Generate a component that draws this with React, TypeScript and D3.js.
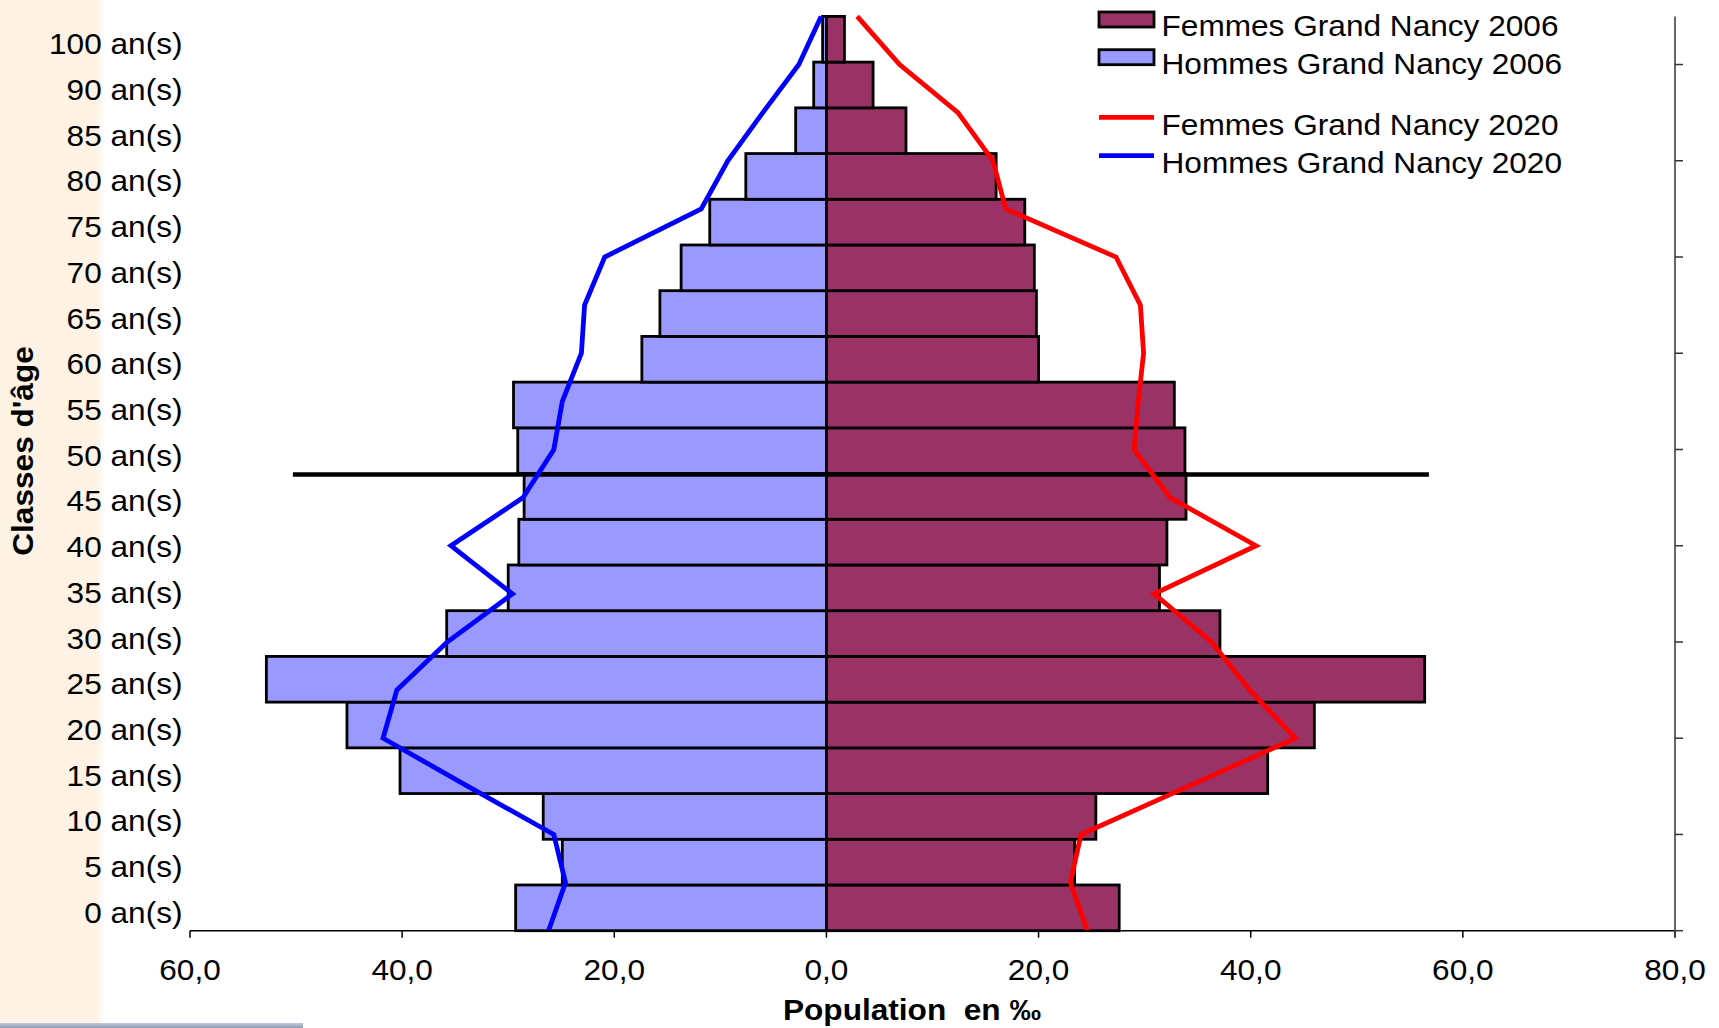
import React from "react";
import * as d3 from "d3";

// ---------- data ----------
const AGES = [
  "0 an(s)", "5 an(s)", "10 an(s)", "15 an(s)", "20 an(s)", "25 an(s)", "30 an(s)",
  "35 an(s)", "40 an(s)", "45 an(s)", "50 an(s)", "55 an(s)", "60 an(s)", "65 an(s)",
  "70 an(s)", "75 an(s)", "80 an(s)", "85 an(s)", "90 an(s)", "100 an(s)",
];
const FEMMES_2006 = [27.6, 23.4, 25.4, 41.6, 46.0, 56.4, 37.1, 31.4, 32.1, 33.9, 33.8, 32.8, 20.0, 19.8, 19.6, 18.7, 16.0, 7.5, 4.4, 1.7];
const HOMMES_2006 = [29.3, 24.9, 26.7, 40.2, 45.2, 52.8, 35.8, 30.0, 29.0, 28.5, 29.1, 29.5, 17.4, 15.7, 13.7, 11.0, 7.6, 2.9, 1.2, 0.36];
const FEMMES_2020 = [24.6, 23.0, 24.0, 34.1, 44.2, 39.9, 36.3, 30.9, 40.5, 32.4, 29.0, 29.4, 29.9, 29.6, 27.3, 16.9, 15.7, 12.4, 6.9, 2.9];
const HOMMES_2020 = [26.2, 24.6, 25.7, 33.8, 41.8, 40.5, 35.75, 29.6, 35.4, 28.6, 25.7, 24.9, 23.1, 22.8, 20.9, 11.8, 9.3, 6.0, 2.6, 0.5];
const X_TICKS = [-60, -40, -20, 0, 20, 40, 60, 80];
const Y2_TICKS = [0, 2, 4, 6, 8, 10, 12, 14, 16, 18];
const MARKER_FROM = -50.3;
const MARKER_TO = 56.8;
const MARKER_BELOW_AGE = "50 an(s)";
const LEGEND_BARS = [
  { label: "Femmes Grand Nancy 2006", fill: "#993366" },
  { label: "Hommes Grand Nancy 2006", fill: "#9999FF" },
];
const LEGEND_LINES = [
  { label: "Femmes Grand Nancy 2020", stroke: "#FF0000" },
  { label: "Hommes Grand Nancy 2020", stroke: "#0000FF" },
];

const FONT = "'Liberation Sans', Arial, Helvetica, sans-serif";
const SX = 1.09;

const T = ({ x, y, anchor = "start", size = 29, bold = false, rotate = 0, children }: any) => (
  <text
    transform={`translate(${x},${y})${rotate ? ` rotate(${rotate})` : ""} scale(${SX},1)`}
    textAnchor={anchor}
    fontSize={size}
    fontWeight={bold ? "bold" : "normal"}
    fontFamily={FONT}
    fill="#000"
  >
    {children}
  </text>
);

export default function App() {
  const W = 1719, H = 1028;
  const top = 16.4, bottom = 930.7, left = 190, right = 1675;
  const x = d3.scaleLinear().domain([-60, 80]).range([left, right]);
  const y = d3.scaleBand<string>().domain([...AGES].reverse()).range([top, bottom]).padding(0);
  const y2 = d3.scaleLinear().domain([0, 19]).range([bottom, top]);
  const bw = y.bandwidth();
  const fmt = (v: number) => Math.abs(v).toFixed(1).replace(".", ",");
  const line = (sign: number) =>
    d3.line<number>().x((v) => x(sign * v)).y((_, i) => y2(i));

  const markerY = (y(MARKER_BELOW_AGE) as number) + bw + 1;

  return (
    <svg width={W} height={H} style={{ position: "absolute", left: 0, top: 0, display: "block", background: "#fff" }}>
      <defs>
        <linearGradient id="fade" x1="0" x2="1" y1="0" y2="0">
          <stop offset="0" stopColor="#FDF2E3" />
          <stop offset="1" stopColor="#FFFFFF" />
        </linearGradient>
        <linearGradient id="bar" x1="0" x2="0" y1="0" y2="1">
          <stop offset="0" stopColor="#C3CBD9" />
          <stop offset="1" stopColor="#8D9AB3" />
        </linearGradient>
      </defs>
      <rect x={0} y={0} width={W} height={H} fill="#fff" />
      <rect x={0} y={0} width={96} height={H} fill="#FDF2E3" />
      <rect x={96} y={0} width={9} height={H} fill="url(#fade)" />
      <rect x={0} y={1023} width={303} height={5} fill="url(#bar)" />

      {/* bars */}
      <g stroke="#000" strokeWidth={2.8}>
        {AGES.map((a, i) => (
          <rect key={"h" + a} x={x(-HOMMES_2006[i])} y={y(a)} width={x(0) - x(-HOMMES_2006[i])} height={bw} fill="#9999FF" />
        ))}
        {AGES.map((a, i) => (
          <rect key={"f" + a} x={x(0)} y={y(a)} width={x(FEMMES_2006[i]) - x(0)} height={bw} fill="#993366" />
        ))}
      </g>

      {/* marker line */}
      <line x1={x(MARKER_FROM)} x2={x(MARKER_TO)} y1={markerY} y2={markerY} stroke="#000" strokeWidth={4.5} />

      {/* 2020 lines */}
      <path d={line(-1)(HOMMES_2020) || ""} fill="none" stroke="#0000FF" strokeWidth={4.8} strokeLinejoin="miter" />
      <path d={line(1)(FEMMES_2020) || ""} fill="none" stroke="#FF0000" strokeWidth={4.8} strokeLinejoin="miter" />

      {/* bottom axis */}
      <line x1={left} x2={right} y1={bottom} y2={bottom} stroke="#000" strokeWidth={1.5} />
      {X_TICKS.map((t) => (
        <g key={"xt" + t}>
          <line x1={x(t)} x2={x(t)} y1={bottom} y2={bottom + 7} stroke="#000" strokeWidth={1.5} />
          <T x={x(t)} y={980} anchor="middle">{fmt(t)}</T>
        </g>
      ))}

      {/* right secondary axis */}
      <line x1={right} x2={right} y1={top} y2={bottom} stroke="#666" strokeWidth={2} />
      {Y2_TICKS.map((t) => (
        <line key={"yt" + t} x1={right} x2={right + 8} y1={y2(t)} y2={y2(t)} stroke="#333" strokeWidth={1.5} />
      ))}

      {/* category labels */}
      {AGES.map((a) => (
        <T key={"lab" + a} x={182.5} y={(y(a) as number) + bw / 2 + 15} anchor="end">{a}</T>
      ))}

      {/* titles */}
      <T x={912} y={1020} anchor="middle" bold>{"Population\u00A0 en ‰"}</T>
      <T x={33} y={451} anchor="middle" bold rotate={-90}>{"Classes d'âge"}</T>

      {/* legend */}
      {LEGEND_BARS.map((l, i) => (
        <g key={l.label}>
          <rect x={1099} y={12 + i * 37.7} width={55} height={15} fill={l.fill} stroke="#000" strokeWidth={2.8} />
          <T x={1161.5} y={35.7 + i * 38.3}>{l.label}</T>
        </g>
      ))}
      {LEGEND_LINES.map((l, i) => (
        <g key={l.label}>
          <line x1={1099} x2={1154} y1={117.3 + i * 38.4} y2={117.3 + i * 38.4} stroke={l.stroke} strokeWidth={4.8} />
          <T x={1161.5} y={135 + i * 38.3}>{l.label}</T>
        </g>
      ))}
    </svg>
  );
}
